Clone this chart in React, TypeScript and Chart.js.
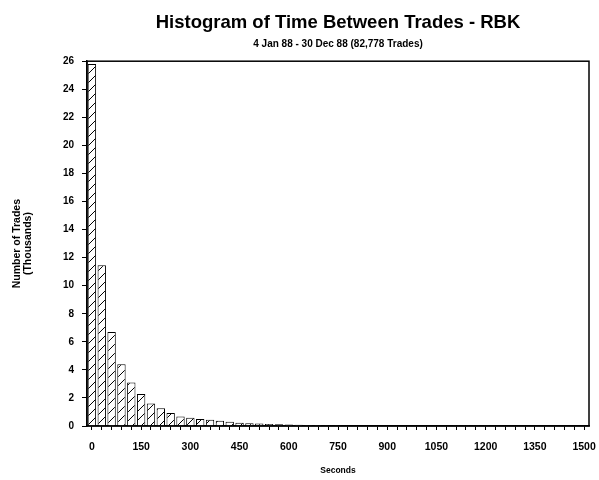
import React, { useEffect, useRef } from "react";
import { Chart, registerables } from "chart.js";

Chart.register(...registerables);

const binStarts: number[] = [
  0, 30, 60, 90, 120, 150, 180, 210, 240, 270, 300, 330, 360, 390, 420, 450, 480,
  510, 540, 570, 600, 630, 660, 690, 720, 750, 780, 810, 840, 870, 900, 930, 960,
  990, 1020, 1050, 1080, 1110, 1140, 1170, 1200, 1230, 1260, 1290, 1320, 1350,
  1380, 1410, 1440, 1470, 1500,
];

const tradesThousands: number[] = [
  25.8, 11.45, 6.7, 4.4, 3.1, 2.28, 1.6, 1.27, 0.92, 0.68, 0.58, 0.5, 0.44, 0.38,
  0.3, 0.24, 0.2, 0.17, 0.14, 0.12, 0.1, 0.09, 0.08, 0.07, 0.06, 0.055, 0.05,
  0.045, 0.04, 0.035, 0.03, 0.03, 0.025, 0.025, 0.02, 0.02, 0.018, 0.015, 0.015,
  0.012, 0.01, 0, 0, 0, 0, 0, 0, 0, 0, 0, 0,
];

const xTickLabels: string[] = [
  "0", "150", "300", "450", "600", "750", "900", "1050", "1200", "1350", "1500",
];

const titleText = "Histogram of Time Between Trades - RBK";
const subtitleText = "4 Jan 88 - 30 Dec 88 (82,778 Trades)";
const yTitle = ["Number of Trades", "(Thousands)"];
const xTitle = "Seconds";

const FONT = "'Liberation Sans', Arial, sans-serif";

function makeHatch(): CanvasPattern | string {
  const c = document.createElement("canvas");
  c.width = 9;
  c.height = 9;
  const g = c.getContext("2d");
  if (!g) return "#fff";
  g.fillStyle = "#fff";
  g.fillRect(0, 0, 9, 9);
  g.strokeStyle = "#000";
  g.lineWidth = 1;
  g.beginPath();
  g.moveTo(0, 9);
  g.lineTo(9, 0);
  g.stroke();
  const p = g.createPattern(c, "repeat");
  return p || "#fff";
}

const framePlugin = {
  id: "frame",
  afterDatasetsDraw(chart: any) {
    const { ctx, chartArea } = chart;
    ctx.save();
    ctx.strokeStyle = "#000";
    ctx.lineWidth = 1.5;
    ctx.strokeRect(chartArea.left, chartArea.top, chartArea.right - chartArea.left, chartArea.bottom - chartArea.top);
    ctx.restore();
  },
};

export default function App() {
  const ref = useRef<HTMLCanvasElement | null>(null);
  useEffect(() => {
    if (!ref.current) return;
    const chart = new Chart(ref.current, {
      type: "bar",
      data: {
        labels: binStarts.map(String),
        datasets: [
          {
            data: tradesThousands,
            backgroundColor: makeHatch() as any,
            borderColor: "#000",
            borderWidth: 1,
            barPercentage: 0.85,
            categoryPercentage: 1,
          },
        ],
      },
      options: {
        responsive: false,
        animation: false,
        layout: { padding: { left: 8, right: 10, top: 0, bottom: 0 } },
        plugins: {
          legend: { display: false },
          tooltip: { enabled: false },
          title: {
            display: true,
            text: titleText,
            fullSize: false,
            color: "#000",
            font: { family: FONT, size: 18.5, weight: "bold" },
            padding: { top: 12, bottom: 3 },
          },
          subtitle: {
            display: true,
            text: subtitleText,
            fullSize: false,
            color: "#000",
            font: { family: FONT, size: 10, weight: "bold", lineHeight: 1 },
            padding: { top: 2, bottom: 12 },
          },
        },
        scales: {
          x: {
            grid: { display: true, drawOnChartArea: false, offset: false, tickLength: 4, color: "#000" },
            border: { color: "#000", width: 1.5 },
            ticks: {
              autoSkip: false,
              maxRotation: 0,
              padding: 11,
              color: "#000",
              font: { family: FONT, size: 10.5, weight: "bold" },
              callback: (_v: any, i: number) => (i % 5 === 0 ? xTickLabels[i / 5] : ""),
            },
            title: {
              display: true,
              text: xTitle,
              color: "#000",
              font: { family: FONT, size: 8.5, weight: "bold" },
              padding: { top: 4 },
            },
            afterFit: (s: any) => {
              s.height = 54;
              s.paddingLeft = 0;
              s.paddingRight = 0;
            },
          },
          y: {
            min: 0,
            max: 26,
            grid: { display: true, drawOnChartArea: false, tickLength: 5, color: "#000" },
            border: { color: "#000", width: 1.5 },
            ticks: {
              stepSize: 2,
              padding: 8,
              color: "#000",
              font: { family: FONT, size: 10, weight: "bold" },
            },
            title: {
              display: true,
              text: yTitle,
              color: "#000",
              font: { family: FONT, size: 10.5, weight: "bold", lineHeight: 1.1 },
              padding: 3,
            },
            afterFit: (s: any) => {
              s.width = 79;
              s.paddingTop = 0;
              s.paddingBottom = 0;
            },
          },
        },
      } as any,
      plugins: [framePlugin],
    });
    return () => chart.destroy();
  }, []);
  return (
    <div style={{ position: "absolute", left: 0, top: 0, width: 599, height: 480, background: "#fff" }}>
      <canvas ref={ref} width={599} height={480} />
    </div>
  );
}
